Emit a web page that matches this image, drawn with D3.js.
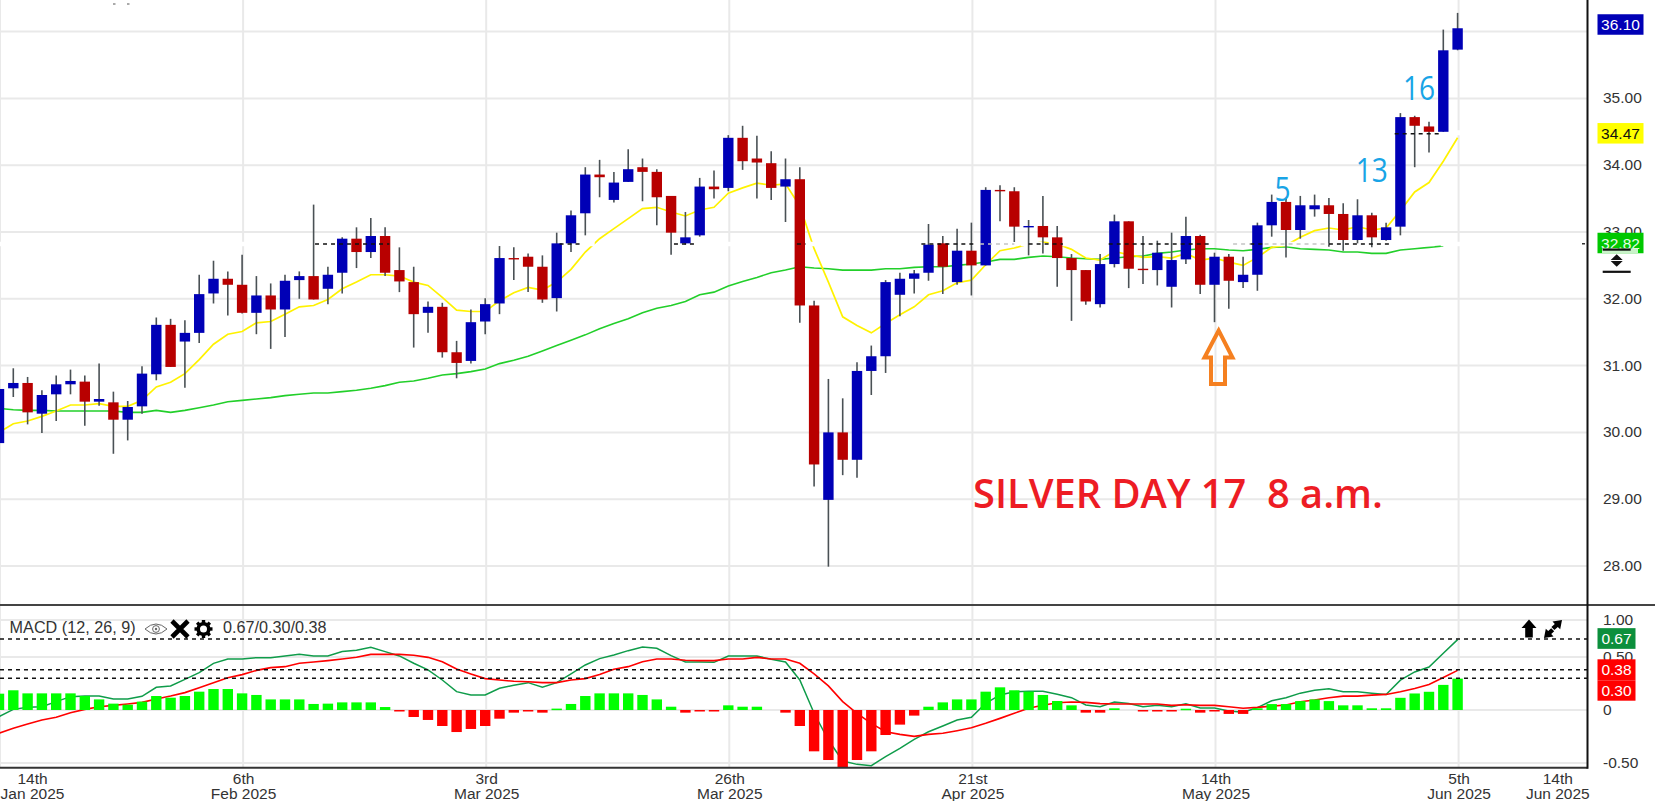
<!DOCTYPE html>
<html>
<head>
<meta charset="utf-8">
<script src="https://cdnjs.cloudflare.com/ajax/libs/d3/7.8.5/d3.min.js"></script>
<style>
html,body{margin:0;padding:0;background:#fff;overflow:hidden}
svg{display:block}
text{font-family:"Liberation Sans",Arial,sans-serif}
</style>
</head>
<body>
<div id="chart"></div>
<script>
// ---------- data ----------
const opens=[29.84,30.66,30.74,30.28,30.57,30.72,30.76,30.46,30.45,30.19,
30.39,30.87,31.61,31.36,31.49,32.08,32.30,32.21,31.79,32.05,
31.84,32.28,32.34,32.15,32.39,32.90,32.70,32.94,32.43,32.25,
31.79,31.88,31.20,31.07,31.66,31.93,32.61,32.63,32.48,32.01,
32.83,33.28,33.86,33.48,33.75,33.97,33.90,33.54,32.83,32.95,
33.68,33.66,34.41,34.10,34.03,33.68,33.79,31.90,28.99,30.00,
29.59,30.92,31.14,32.06,32.30,32.39,32.83,32.25,32.72,32.50,
33.63,33.61,33.08,33.09,32.92,32.61,32.43,31.92,32.52,33.16,
32.45,32.43,32.18,32.59,32.94,32.21,32.63,32.25,32.36,33.10,
33.45,33.03,33.34,33.40,33.27,32.88,33.25,32.88,33.08,34.72,
34.58,34.50,35.73];
const closes=[30.65,30.74,30.30,30.56,30.72,30.77,30.46,30.50,30.19,30.38,
30.88,31.61,30.98,31.49,32.07,32.30,32.21,31.79,32.05,31.84,
32.27,32.34,31.99,32.36,32.90,32.70,32.94,32.39,32.26,31.77,
31.88,31.20,31.04,31.65,31.92,32.61,32.59,32.48,31.99,32.83,
33.25,33.86,33.82,33.74,33.94,33.90,33.52,32.99,32.92,33.68,
33.64,34.41,34.06,34.04,33.66,33.79,31.90,29.52,30.00,29.59,
30.92,31.14,32.25,32.30,32.38,32.81,32.48,32.72,32.50,33.63,
33.61,33.08,33.09,32.92,32.61,32.43,31.96,32.52,33.16,32.45,
32.43,32.69,32.58,32.94,32.21,32.63,32.27,32.36,33.10,33.45,
33.03,33.40,33.40,33.27,32.88,33.25,32.92,33.07,34.72,34.59,
34.50,35.72,36.05];
const highs=[30.70,30.96,30.83,30.63,30.85,30.94,30.85,31.03,30.61,30.47,
30.99,31.72,31.70,31.68,32.36,32.57,32.41,32.66,32.34,32.23,
32.36,32.41,33.41,32.48,32.92,33.07,33.21,33.07,32.77,32.48,
31.96,31.94,31.37,31.84,32.01,32.79,32.77,32.68,32.65,32.99,
33.32,33.97,34.08,33.90,34.24,34.10,33.94,33.54,33.30,33.81,
33.92,34.45,34.59,34.44,34.21,34.10,33.97,31.97,30.80,30.51,
31.05,31.30,32.28,32.39,32.43,33.12,32.94,33.05,33.14,33.67,
33.70,33.67,33.18,33.54,33.09,32.67,32.43,32.67,33.26,33.16,
32.94,32.87,32.99,33.23,32.96,32.69,32.67,32.63,33.14,33.56,
33.50,33.54,33.56,33.51,33.43,33.49,33.29,33.14,34.78,34.74,
34.65,36.03,36.28];
const lows=[29.80,30.53,30.12,29.99,30.17,30.57,30.10,30.40,29.68,29.88,
30.28,30.78,30.98,30.67,31.34,31.93,31.75,31.78,31.47,31.25,
31.43,32.00,31.99,31.92,32.08,32.46,32.61,32.34,32.10,31.27,
31.49,31.12,30.81,31.03,31.47,31.77,32.28,32.10,31.94,31.81,
32.70,32.95,33.52,33.44,33.75,33.46,33.10,32.66,32.81,32.93,
33.50,33.61,33.93,33.50,33.48,33.15,31.64,29.19,27.99,29.36,
29.32,30.56,30.89,31.74,32.08,32.27,32.07,32.21,32.05,32.50,
33.16,32.85,32.65,32.68,32.18,31.67,31.91,31.87,32.47,32.16,
32.22,32.20,31.87,32.52,32.07,31.65,31.85,32.16,32.12,32.93,
32.62,32.90,33.23,32.78,32.72,32.83,32.77,32.87,32.95,33.97,
34.19,34.50,35.72];
const maFast=[30.00,30.13,30.17,30.24,30.32,30.41,30.41,30.43,30.39,30.39,
30.48,30.68,30.75,30.88,31.09,31.32,31.47,31.51,31.64,31.66,
31.77,31.88,31.90,31.99,32.15,32.25,32.36,32.36,32.34,32.25,
32.20,32.02,31.83,31.81,31.81,31.97,32.09,32.17,32.13,32.25,
32.44,32.70,32.90,33.05,33.20,33.35,33.37,33.30,33.24,33.33,
33.37,33.58,33.66,33.73,33.70,33.72,33.39,32.75,32.25,31.73,
31.60,31.49,31.63,31.76,31.88,32.06,32.12,32.24,32.28,32.51,
32.72,32.76,32.82,32.85,32.82,32.74,32.61,32.58,32.71,32.66,
32.62,32.63,32.61,32.68,32.58,32.61,32.55,32.50,32.62,32.77,
32.80,32.92,33.02,33.06,33.03,33.08,33.03,33.06,33.32,33.60,
33.74,34.06,34.41];
const maSlow=[30.36,30.34,30.33,30.33,30.32,30.32,30.32,30.32,30.32,30.30,
30.30,30.33,30.30,30.33,30.37,30.41,30.46,30.48,30.50,30.52,
30.55,30.57,30.59,30.59,30.61,30.63,30.66,30.70,30.75,30.77,
30.81,30.86,30.88,30.91,30.95,31.03,31.08,31.14,31.22,31.30,
31.38,31.46,31.55,31.63,31.70,31.79,31.86,31.90,31.96,32.06,
32.10,32.19,32.26,32.32,32.39,32.43,32.48,32.46,32.45,32.43,
32.43,32.43,32.45,32.45,32.47,32.48,32.48,32.50,32.52,32.55,
32.59,32.59,32.62,32.64,32.63,32.61,32.60,32.59,32.61,32.63,
32.64,32.68,32.70,32.73,32.75,32.75,32.73,32.72,32.74,32.77,
32.78,32.75,32.74,32.73,32.70,32.70,32.68,32.68,32.73,32.75,
32.77,32.79];
const macdLine=[-0.063,0.006,0.025,0.031,0.079,0.126,0.132,0.132,0.104,0.104,
0.129,0.214,0.227,0.289,0.352,0.440,0.482,0.482,0.494,0.494,
0.510,0.526,0.510,0.510,0.551,0.564,0.592,0.551,0.510,0.441,
0.378,0.283,0.173,0.142,0.142,0.205,0.233,0.258,0.214,0.258,
0.340,0.425,0.485,0.519,0.560,0.595,0.582,0.513,0.453,0.453,
0.450,0.510,0.510,0.510,0.478,0.453,0.283,-0.031,-0.283,-0.481,
-0.513,-0.525,-0.440,-0.362,-0.277,-0.205,-0.151,-0.094,-0.069,0.063,
0.142,0.173,0.176,0.176,0.148,0.116,0.047,0.031,0.075,0.062,
0.031,0.044,0.031,0.059,0.019,0.019,-0.009,-0.022,0.022,0.087,
0.115,0.159,0.187,0.200,0.172,0.172,0.159,0.147,0.281,0.359,
0.405,0.536,0.664];
const signalLine=[-0.220,-0.173,-0.132,-0.094,-0.069,-0.025,0.006,0.031,0.044,0.057,
0.072,0.104,0.132,0.164,0.211,0.258,0.305,0.334,0.374,0.400,
0.409,0.441,0.453,0.466,0.481,0.497,0.525,0.525,0.525,0.516,
0.497,0.456,0.387,0.340,0.296,0.283,0.271,0.267,0.258,0.258,
0.283,0.296,0.334,0.384,0.409,0.456,0.481,0.481,0.469,0.466,
0.466,0.481,0.481,0.497,0.481,0.481,0.441,0.340,0.227,0.079,
-0.031,-0.126,-0.205,-0.230,-0.249,-0.230,-0.220,-0.195,-0.167,-0.126,
-0.079,-0.031,0.016,0.044,0.069,0.076,0.072,0.060,0.057,0.056,
0.056,0.056,0.044,0.050,0.044,0.044,0.031,0.016,0.025,0.037,
0.047,0.078,0.094,0.115,0.131,0.131,0.140,0.147,0.172,0.203,
0.240,0.306,0.374];
const macdHist=[0.154,0.186,0.157,0.157,0.157,0.157,0.132,0.100,0.060,0.050,
0.079,0.132,0.116,0.132,0.173,0.198,0.198,0.157,0.142,0.100,
0.100,0.100,0.057,0.060,0.072,0.072,0.072,0.028,-0.010,-0.066,
-0.094,-0.151,-0.208,-0.179,-0.151,-0.082,-0.025,-0.010,-0.025,0.013,
0.057,0.132,0.157,0.157,0.157,0.142,0.100,0.031,-0.025,-0.010,
-0.010,0.044,0.031,0.031,0,-0.025,-0.151,-0.390,-0.472,-0.600,
-0.472,-0.390,-0.236,-0.138,-0.053,0.031,0.072,0.100,0.100,0.173,
0.214,0.186,0.173,0.142,0.085,0.044,-0.025,-0.025,0.016,0,
-0.010,-0.010,-0.010,0.012,-0.025,-0.010,-0.037,-0.037,0.016,0.056,
0.056,0.084,0.100,0.084,0.044,0.044,0.016,0.016,0.115,0.156,
0.172,0.237,0.296];
const dateTicks=[0,17,34,51,68,85,102,108.9];
const dateLabelsTop=["14th","6th","3rd","26th","21st","14th","5th","14th"];
const dateLabelsBottom=["Jan 2025","Feb 2025","Mar 2025","Mar 2025","Apr 2025","May 2025","Jun 2025","Jun 2025"];
const priceGrid=[28,29,30,31,32,33,34,35,36];
const priceLabels=[28,29,30,31,32,33,34,35];
const macdGridPos=[0.85,0.5,0,-0.5];
const macdTickText=["1.00","0.50","0","-0.50"];
const macdLevels=[0.67,0.38,0.30];
const levelPrice=32.82, levelPrice2=34.47;
const blackDashes=[[22.1,27.3],[39.2,40.6],[47.2,48.6],[55.8,56.4],[64.5,68.4],[72,74.4],[77.6,84.7],[87.5,88.5],[93,97.3]];
const greyDashes=[[68.6,71],[86.3,87.5],[88.5,93]];
const upperDash=[97.6,100.8];
const whiteGaps=[[-1,117]];
const legendText="MACD (12, 26, 9)", legendValues="0.67/0.30/0.38";
const title="SILVER DAY 17  8 a.m.";
const counts=[{t:"5",i:89.75,p:33.47},{t:"13",i:96,p:33.75},{t:"16",i:99.3,p:34.98}];

// ---------- layout ----------
const W=1655,H=801,plotR=1587.5,panelTop=605,panelBot=767.7;
const svg=d3.select("#chart").append("svg").attr("width",W).attr("height",H);
const x=d3.scaleLinear().domain([0,102]).range([-1,1457.6]);
const yP=d3.scaleLinear().domain([35,28]).range([98.4,566]);
const yM=d3.scaleLinear().domain([0,0.67]).range([710,639]);
const C={blue:"#0000b6",red:"#b80000",wick:"#4a5155",grid:"#e9e9e9",txt:"#333"};

svg.append("defs").append("clipPath").attr("id","mp").append("rect")
 .attr("x",0).attr("y",panelTop).attr("width",plotR).attr("height",panelBot-panelTop);

// grid via axes
const hideDomain=g=>g.select(".domain").remove();
const gridV=d3.axisBottom(x).tickValues(dateTicks.slice(0,7)).tickSize(panelBot).tickFormat("").offset(1);
svg.append("g").call(gridV).call(hideDomain).selectAll("line").attr("stroke",C.grid).attr("stroke-width",2);
const gridH=d3.axisRight(yP).tickValues(priceGrid).tickSize(plotR).tickFormat("").offset(0);
svg.append("g").call(gridH).call(hideDomain).selectAll("line").attr("stroke",C.grid).attr("stroke-width",2);
const gridM=d3.axisRight(yM).tickValues(macdGridPos).tickSize(plotR).tickFormat("").offset(0);
svg.append("g").call(gridM).call(hideDomain).selectAll("line").attr("stroke",C.grid).attr("stroke-width",2);

// moving averages
const line=d3.line().x((d,i)=>x(i)).y(d=>yP(d));
svg.append("path").attr("d",line(maSlow)).attr("fill","none").attr("stroke","#22cf2a").attr("stroke-width",1.6);
svg.append("path").attr("d",line(maFast)).attr("fill","none").attr("stroke","#fff200").attr("stroke-width",1.7);

// white gap line the reference shows along the level
whiteGaps.forEach(s=>svg.append("line").attr("x1",x(s[0])).attr("x2",x(s[1])).attr("y1",yP(levelPrice)).attr("y2",yP(levelPrice))
 .attr("stroke","#fff").attr("stroke-width",4.5).attr("stroke-dasharray","22 6"));
svg.append("line").attr("x1",x(100.9)).attr("x2",x(104)).attr("y1",yP(levelPrice2)-1).attr("y2",yP(levelPrice2)-1)
 .attr("stroke","#fff").attr("stroke-width",5);

// candles
const idx=d3.range(opens.length);
const cg=svg.append("g");
cg.selectAll("line.w").data(idx).join("line").attr("class","w")
 .attr("x1",i=>x(i)).attr("x2",i=>x(i)).attr("y1",i=>yP(highs[i])).attr("y2",i=>yP(lows[i]))
 .attr("stroke",C.wick).attr("stroke-width",1.6);
cg.selectAll("rect").data(idx).join("rect")
 .attr("x",i=>x(i)-5.2).attr("width",10.4)
 .attr("y",i=>yP(Math.max(opens[i],closes[i])))
 .attr("height",i=>Math.max(1.4,Math.abs(yP(opens[i])-yP(closes[i]))))
 .attr("fill",i=>closes[i]>=opens[i]?C.blue:C.red);

// dashed level segments
const dash=(s,p,col)=>svg.append("line").attr("x1",x(s[0])).attr("x2",x(s[1])).attr("y1",yP(p)).attr("y2",yP(p))
 .attr("stroke",col).attr("stroke-width",1.5).attr("stroke-dasharray","4 4");
blackDashes.forEach(s=>dash(s,levelPrice,"#111"));
greyDashes.forEach(s=>dash(s,levelPrice,"#c4c4c4"));
dash(upperDash,levelPrice2,"#111");

// annotations
svg.append("text").text(title).attr("x",973).attr("y",508).attr("fill","#ed1c24")
 .style("font-family","'Open Sans'").style("font-size","39.8px").style("font-weight",600).attr("xml:space","preserve").style("white-space","pre");
counts.forEach(c=>svg.append("text").text(c.t).attr("transform","translate("+x(c.i)+","+yP(c.p)+") scale(0.84,1)").attr("text-anchor","middle")
 .attr("fill","#18a4e6").style("font-family","'Open Sans'").style("font-size","33.5px").style("font-weight",500));
svg.append("path").attr("d","M1218.7 330.5L1204.5 357.5H1211V384H1225V357.5H1232.5Z")
 .attr("fill","none").attr("stroke","#f58020").attr("stroke-width",4).attr("stroke-linejoin","miter");
[113,127].forEach(a=>svg.append("rect").attr("x",a).attr("y",3).attr("width",2.5).attr("height",2).attr("fill","#aaa"));

// MACD panel
const mg=svg.append("g").attr("clip-path","url(#mp)");
const mline=d3.line().x((d,i)=>x(i)).y(d=>yM(d));
mg.append("path").attr("d",mline(macdLine)).attr("fill","none").attr("stroke","#0f9c4a").attr("stroke-width",1.5);
mg.append("path").attr("d",mline(signalLine)).attr("fill","none").attr("stroke","#ff0000").attr("stroke-width",1.6);
mg.selectAll("rect").data(idx.filter(i=>macdHist[i]!==0)).join("rect")
 .attr("x",i=>x(i)-5.2).attr("width",10.4)
 .attr("y",i=>Math.min(yM(0),yM(macdHist[i])))
 .attr("height",i=>Math.max(1.5,Math.abs(yM(macdHist[i])-yM(0))))
 .attr("fill",i=>macdHist[i]>0?"#00ff00":"#ff0000");
macdLevels.forEach(v=>svg.append("line").attr("x1",0).attr("x2",plotR).attr("y1",yM(v)).attr("y2",yM(v))
 .attr("stroke","#111").attr("stroke-width",1.5).attr("stroke-dasharray","4 4"));

// frame
svg.append("line").attr("x1",0).attr("x2",W).attr("y1",panelTop).attr("y2",panelTop).attr("stroke","#444").attr("stroke-width",2);
svg.append("line").attr("x1",0).attr("x2",plotR).attr("y1",panelBot).attr("y2",panelBot).attr("stroke","#333").attr("stroke-width",2);
svg.append("line").attr("x1",plotR).attr("x2",plotR).attr("y1",0).attr("y2",panelBot+1).attr("stroke","#111").attr("stroke-width",2);

// right axes
const styleAxis=g=>{g.select(".domain").remove();g.selectAll("line").remove();
 g.selectAll("text").attr("fill",C.txt).style("font-family","'Liberation Sans'").style("font-size","15.5px");};
svg.append("g").attr("transform","translate(1603,0)")
 .call(d3.axisRight(yP).tickValues(priceLabels).tickFormat(d3.format(".2f")).tickSize(0).tickPadding(0).offset(0)).call(styleAxis);
svg.append("g").attr("transform","translate(1603,0)")
 .call(d3.axisRight(yM).tickValues(macdGridPos).tickFormat((d,i)=>macdTickText[i]).tickSize(0).tickPadding(0).offset(0)).call(styleAxis);

// date axis with two-line labels
const dateAxis=svg.append("g").attr("transform","translate(0,"+panelBot+")")
 .call(d3.axisBottom(x).tickValues(dateTicks).tickSize(0).tickPadding(0).tickFormat(""));
dateAxis.select(".domain").remove();
dateAxis.selectAll("text").remove();
dateAxis.selectAll(".tick").each(function(d,i){
  const g=d3.select(this);
  const tx=i===0?33:1;
  [[dateLabelsTop[i],16],[dateLabelsBottom[i],31.5]].forEach(r=>g.append("text").text(r[0]).attr("x",tx).attr("y",r[1])
    .attr("text-anchor","middle").attr("fill",C.txt).style("font-size","15.5px"));
});

// value badges
const badge=(x0,w,yc,h,bg,fg,txt)=>{
 svg.append("rect").attr("x",x0).attr("y",yc-h/2).attr("width",w).attr("height",h).attr("fill",bg);
 svg.append("text").text(txt).attr("x",x0+w/2).attr("y",yc+5.5).attr("text-anchor","middle").attr("fill",fg).style("font-size","15.5px");
};
badge(1597.5,46,24.5,20.5,C.blue,"#fff","36.10");
badge(1597.5,46,133.3,20.5,"#ffff00","#111","34.47");
badge(1597.5,46,243,20.5,"#00c800","#e8ffe8","32.82");
svg.append("rect").attr("x",1602).attr("y",248.5).attr("width",36).attr("height",4.5).attr("fill","#c9f2c9");
[[1602.7,248.5],[1602.7,270.7]].forEach(p=>svg.append("rect").attr("x",p[0]).attr("y",p[1]).attr("width",28).attr("height",2.2).attr("fill","#111"));
svg.append("path").attr("d","M1616.7 254.3l6 5.7h-12zM1616.7 266.7l6-5.7h-12z").attr("fill","#111");
svg.append("rect").attr("x",1582).attr("y",243).attr("width",3).attr("height",1.5).attr("fill","#333");
badge(1597.5,38,638.5,20.7,"#0c8f3c","#fff","0.67");
badge(1597.5,38,669.8,21,"#ff0000","#fff","0.38");
badge(1597.5,38,690.5,20.4,"#ff0000","#fff","0.30");

// legend
svg.append("text").text(legendText).attr("x",9.6).attr("y",633).attr("fill",C.txt).style("font-size","16.2px");
svg.append("text").text(legendValues).attr("x",223).attr("y",633).attr("fill",C.txt).style("font-size","16.2px");
const eye=svg.append("g").attr("transform","translate(156,629)");
eye.append("path").attr("d","M-11 0Q0 -10 11 0Q0 10 -11 0Z").attr("fill","none").attr("stroke","#666").attr("stroke-width",1);
eye.append("circle").attr("r",3.4).attr("fill","none").attr("stroke","#666").attr("stroke-width",1);
eye.append("circle").attr("r",1.2).attr("fill","#666");
svg.append("path").attr("d","M172 621L188 637M188 621L172 637").attr("stroke","#000").attr("stroke-width",4.6).attr("fill","none");
const gear=svg.append("g").attr("transform","translate(203.5,629)");
gear.append("circle").attr("r",5.3).attr("fill","none").attr("stroke","#000").attr("stroke-width",3.6);
d3.range(8).forEach(k=>gear.append("rect").attr("x",-1.7).attr("y",-9).attr("width",3.4).attr("height",3.6)
  .attr("transform","rotate("+k*45+")").attr("fill","#000"));
svg.append("path").attr("d","M1529 619.5l7.5 8.5h-3.7v9.5h-7.6v-9.5h-3.7z").attr("fill","#000");
svg.append("path").attr("d","M1562 620l-9.5 1.5 2.3 2.4-3.4 3.2 3 3 3.4-3.2 2.4 2.3zM1544 638l9.5-1.5-2.3-2.4 3-2.8-3-3-3 2.8-2.4-2.3z").attr("fill","#000");
</script>
</body>
</html>
